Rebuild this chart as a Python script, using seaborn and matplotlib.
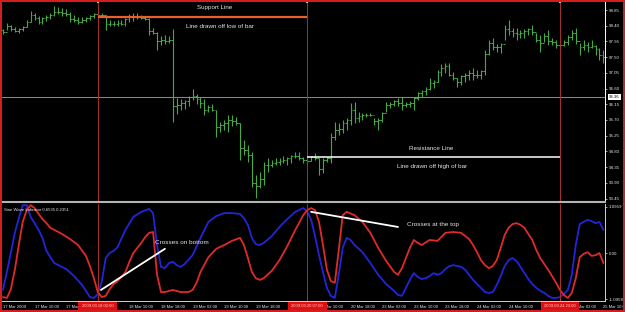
import matplotlib
matplotlib.use("Agg")
import matplotlib.pyplot as plt
from matplotlib.patches import Rectangle
from matplotlib import transforms
import pandas as pd
import seaborn as sns

# ---------------- data (hourly bars, 17-25 Mar 2009) ----------------
bar_high = [98.31, 98.48, 98.42, 98.36, 98.34, 98.39, 98.56, 98.82, 98.76, 98.68,
            98.65, 98.71, 98.76, 98.97, 98.94, 98.91, 98.88, 98.79, 98.71, 98.65,
            98.65, 98.65, 98.71, 98.76, 98.82, 98.76, 98.71, 98.56, 98.54, 98.56,
            98.56, 98.62, 98.74, 98.76, 98.76, 98.71, 98.65, 98.62, 98.34, 98.22,
            98.11, 98.14, 98.11, 98.31, 96.33, 96.30, 96.27, 96.39, 96.59, 96.44,
            96.36, 96.30, 96.13, 96.16, 95.99, 95.64, 95.70, 95.84, 95.84, 95.79,
            95.61, 95.13, 94.98, 94.78, 94.12, 94.21, 94.50, 94.61, 94.55, 94.61,
            94.61, 94.67, 94.64, 94.70, 94.78, 94.78, 94.64, 94.65, 94.67, 94.75,
            94.61, 94.61, 94.64, 95.33, 95.64, 95.61, 95.70, 95.76, 96.19, 96.21,
            95.93, 95.90, 95.90, 95.90, 95.76, 95.76, 95.93, 96.21, 96.21, 96.27,
            96.33, 96.36, 96.21, 96.24, 96.36, 96.50, 96.56, 96.64, 96.91, 96.85,
            97.13, 97.30, 97.33, 97.33, 97.07, 96.91, 96.99, 97.05, 97.13, 97.19,
            97.13, 97.13, 97.70, 97.99, 98.05, 97.88, 97.91, 98.42, 98.56, 98.34,
            98.34, 98.28, 98.31, 98.34, 98.42, 98.19, 98.14, 98.19, 98.28, 98.05,
            97.99, 97.93, 97.99, 98.14, 98.28, 98.34, 97.91, 97.99, 97.93, 97.99,
            97.85, 97.76, 97.70]
bar_low = [98.16, 98.28, 98.25, 98.22, 98.19, 98.25, 98.36, 98.51, 98.56, 98.45,
           98.45, 98.54, 98.59, 98.68, 98.74, 98.68, 98.68, 98.51, 98.51, 98.45,
           98.48, 98.51, 98.56, 98.62, 98.66, 98.68, 98.28, 98.39, 98.39, 98.39,
           98.42, 98.39, 98.51, 98.54, 98.59, 98.59, 98.56, 98.14, 98.16, 97.70,
           97.85, 97.88, 97.91, 95.64, 95.87, 95.99, 96.01, 96.10, 96.27, 96.16,
           96.04, 95.84, 95.93, 95.96, 95.21, 95.36, 95.41, 95.36, 95.53, 95.56,
           94.55, 94.70, 94.50, 93.78, 93.46, 93.75, 93.84, 94.21, 94.35, 94.41,
           94.41, 94.47, 94.41, 94.47, 94.61, 94.55, 94.47, 94.41, 94.52, 94.55,
           94.12, 94.18, 94.50, 94.47, 95.13, 95.27, 95.33, 95.41, 95.56, 95.61,
           95.64, 95.70, 95.79, 95.81, 95.56, 95.41, 95.64, 95.93, 96.04, 96.10,
           96.10, 95.99, 96.07, 96.07, 95.99, 96.27, 96.36, 96.42, 96.56, 96.62,
           96.79, 96.96, 97.05, 96.96, 96.85, 96.64, 96.70, 96.79, 96.85, 96.85,
           96.91, 96.87, 96.99, 97.56, 97.70, 97.65, 97.62, 97.99, 98.14, 98.08,
           97.99, 98.05, 98.05, 98.14, 98.14, 97.93, 97.65, 97.93, 97.85, 97.85,
           97.76, 97.76, 97.82, 97.85, 97.99, 97.88, 97.56, 97.70, 97.65, 97.76,
           97.56, 97.42, 97.33]
bar_close = [98.22, 98.40, 98.30, 98.26, 98.30, 98.36, 98.50, 98.70, 98.62, 98.50,
             98.62, 98.66, 98.72, 98.80, 98.80, 98.76, 98.74, 98.58, 98.56, 98.52,
             98.56, 98.62, 98.68, 98.74, 98.72, 98.70, 98.46, 98.46, 98.44, 98.48,
             98.46, 98.58, 98.68, 98.66, 98.64, 98.62, 98.60, 98.24, 98.20, 97.96,
             98.00, 97.96, 98.00, 96.10, 96.12, 96.20, 96.24, 96.36, 96.40, 96.30,
             96.20, 96.00, 96.08, 96.00, 95.50, 95.56, 95.60, 95.70, 95.66, 95.62,
             94.90, 94.84, 94.70, 93.90, 93.80, 94.00, 94.40, 94.40, 94.48, 94.50,
             94.52, 94.56, 94.60, 94.68, 94.66, 94.60, 94.56, 94.52, 94.64, 94.60,
             94.30, 94.56, 94.60, 95.20, 95.40, 95.44, 95.60, 95.70, 96.00, 95.76,
             95.80, 95.84, 95.84, 95.84, 95.66, 95.70, 95.90, 96.14, 96.16, 96.24,
             96.20, 96.14, 96.16, 96.20, 96.32, 96.46, 96.52, 96.60, 96.76, 96.80,
             97.08, 97.20, 97.24, 97.00, 96.90, 96.80, 96.96, 97.00, 97.06, 97.00,
             97.00, 97.10, 97.60, 97.90, 97.80, 97.78, 97.88, 98.30, 98.24, 98.20,
             98.16, 98.20, 98.24, 98.30, 98.22, 98.00, 97.90, 98.10, 97.96, 97.92,
             97.86, 97.86, 97.94, 98.08, 98.20, 97.96, 97.80, 97.86, 97.80, 97.82,
             97.72, 97.56, 97.50]
first_open = 98.28

# Sine Wave indicator (blue = sine, red = lead sine), read at bar indexes
sine_idx = [0, 1, 2, 3, 4, 5, 6, 7, 8, 9, 10, 11, 12, 13, 16, 18, 20, 21, 22, 23,
            24, 25, 26, 27, 28, 29, 31, 33, 35, 37, 38, 39, 40, 41, 42, 43, 44, 45, 46, 48,
            50, 52, 54, 56, 58, 60, 61, 62, 63, 64, 65, 66, 68, 70, 72, 74, 76, 77, 78, 79,
            80, 81, 82, 83, 84, 85, 86, 87, 88, 89, 91, 93, 95, 97, 99, 100, 101, 102, 103, 104,
            105, 106, 107, 108, 109, 110, 111, 112, 113, 114, 115, 116, 117, 118, 119, 120,
            121, 122, 123, 124, 125, 126, 127, 128, 129, 130, 131, 132, 133, 134, 135, 136,
            137, 138, 139, 140, 141, 142, 143, 144, 145, 146, 147, 148, 149, 150, 151, 152]
sine_val = [-0.88, -0.45, 0.02, 0.48, 0.83, 1.14, 1.14, 0.86, 0.71, 0.55, 0.36, 0.05, -0.10, -0.24, -0.38, -0.55, -0.76, -0.90, -1.05, -1.07,
            -0.98, -0.69, -0.12, 0.00, 0.05, 0.14, 0.55, 0.86, 0.98, 1.05, 0.95, 0.19, -0.33, -0.36, -0.24, -0.21, -0.29, -0.33, -0.26, -0.05,
            0.36, 0.74, 0.88, 0.95, 0.95, 0.93, 0.83, 0.67, 0.36, 0.21, 0.19, 0.24, 0.40, 0.62, 0.81, 0.98, 1.07, 1.00, 0.79, 0.40,
            -0.05, -0.45, -0.83, -1.02, -1.07, -0.52, 0.12, 0.36, 0.31, 0.19, 0.02, -0.24, -0.52, -0.74, -0.90, -1.00, -1.02, -0.83, -0.64, -0.48,
            -0.57, -0.62, -0.60, -0.55, -0.48, -0.52, -0.48, -0.38, -0.31, -0.29, -0.31, -0.33, -0.40, -0.52, -0.64, -0.74,
            -0.83, -0.93, -0.95, -0.93, -0.76, -0.55, -0.31, -0.17, -0.12, -0.19, -0.33, -0.48, -0.62, -0.74, -0.83, -0.90,
            -0.95, -1.02, -1.07, -1.07, -1.05, -0.98, -0.88, -0.52, 0.19, 0.69, 0.74, 0.79, 0.76, 0.71, 0.74, 0.55]
lead_idx = [0, 1, 2, 3, 4, 5, 6, 7, 8, 9, 10, 11, 12, 14, 15, 17, 19, 21, 22, 23,
            24, 25, 26, 27, 28, 29, 30, 31, 32, 33, 35, 36, 37, 38, 39, 40, 41, 43, 45, 47,
            48, 49, 50, 52, 54, 56, 58, 60, 61, 62, 63, 64, 65, 66, 68, 70, 72, 74, 76, 77,
            78, 79, 80, 81, 82, 83, 84, 85, 86, 87, 89, 91, 93, 95, 97, 99, 100, 101, 102, 103,
            104, 105, 106, 108, 110, 112, 114, 116, 118, 119, 120, 121, 122, 123, 124, 125,
            126, 127, 128, 129, 130, 131, 132, 133, 134, 135, 136, 137, 138, 139, 140, 141,
            142, 143, 144, 145, 146, 147, 148, 149, 150, 151, 152]
lead_val = [-1.05, -1.07, -0.86, -0.40, 0.19, 0.74, 1.02, 1.14, 1.07, 0.93, 0.81, 0.71, 0.60, 0.50, 0.45, 0.33, 0.19, -0.07, -0.31, -0.60,
            -0.93, -1.05, -1.02, -0.86, -0.74, -0.67, -0.57, -0.45, -0.21, 0.00, 0.24, 0.38, 0.48, 0.50, -0.52, -0.93, -0.93, -0.88, -0.93, -0.93,
            -0.88, -0.71, -0.45, -0.10, 0.10, 0.19, 0.29, 0.36, 0.19, -0.12, -0.45, -0.60, -0.64, -0.60, -0.43, -0.17, 0.17, 0.55, 0.90, 1.02,
            1.07, 1.02, 0.74, 0.19, -0.40, -0.67, -0.71, 0.07, 0.90, 0.98, 0.90, 0.74, 0.48, 0.12, -0.19, -0.45, -0.52, -0.36, -0.12, 0.12,
            0.31, 0.24, 0.19, 0.31, 0.29, 0.48, 0.50, 0.48, 0.33, 0.19, 0.02, -0.17, -0.29, -0.36, -0.31, -0.17,
            0.12, 0.43, 0.60, 0.69, 0.71, 0.67, 0.60, 0.45, 0.31, 0.07, -0.12, -0.26, -0.40, -0.55, -0.71, -0.88,
            -1.00, -1.07, -0.95, -0.60, -0.10, -0.02, 0.02, -0.07, -0.05, 0.00, -0.24]

price_ticks = [98.85, 98.40, 97.95, 97.50, 97.05, 96.60, 96.15, 95.70, 95.25, 94.80, 94.35, 93.90, 93.45]
ind_ticks = [1.0959, 0.0, -1.0958]
ind_tick_labels = ["1.0959", "0.00", "-1.0958"]
# time labels every 8 bars; those fully hidden by the red time boxes are omitted
time_tick_pos = [0, 8, 16, 32, 40, 48, 56, 64, 80, 88, 96, 104, 112, 120, 128, 144, 152]
time_tick_labels = ["17 Mar 2009", "17 Mar 10:00", "17 Mar 18:00", "18 Mar 10:00",
                    "18 Mar 18:00", "19 Mar 02:00", "19 Mar 10:00", "19 Mar 18:00",
                    "20 Mar 10:00", "20 Mar 18:00", "23 Mar 02:00", "23 Mar 10:00", "23 Mar 18:00",
                    "24 Mar 02:00", "24 Mar 10:00", "25 Mar 02:00", "25 Mar 10:00"]
vline_bars = [24, 77, 141]
vline_labels = ["2009.03.18 02:00", "2009.03.20 07:00", "2009.03.24 23:00"]
support_level = 98.66
resistance_level = 94.65
hline_level = 96.36
hline_label = "96.36"

# ---------------- style ----------------
sns.set_theme(style="dark", rc={"axes.facecolor": "black", "figure.facecolor": "black",
                                "savefig.facecolor": "black"})
plt.rcParams['font.family'] = ['Liberation Sans', 'DejaVu Sans']

W, H = 625, 312
fig = plt.figure(figsize=(W / 100, H / 100), dpi=100)
ax_p = fig.add_axes([2 / W, 110 / H, 603 / W, 200 / H])
ax_i = fig.add_axes([2 / W, 11 / H, 603 / W, 97 / H])

GREEN = "#46A846"
BLUE = "#2424D8"
RED = "#E02A2A"
VRED = "#A83030"
TXT = "#E6E6E6"

# ---------------- price panel ----------------
idx = list(range(len(bar_high)))
opens = [first_open] + bar_close[:-1]
ax_p.vlines(idx, bar_low, bar_high, color=GREEN, lw=0.8)
ax_p.hlines(opens, [i - 0.45 for i in idx], idx, color=GREEN, lw=0.7)
ax_p.hlines(bar_close, idx, [i + 0.45 for i in idx], color=GREEN, lw=0.7)

ax_p.set_xlim(-0.25, 152.4)
ax_p.set_ylim(93.35, 99.08)
ax_p.axhline(hline_level, color="#8C8C8C", lw=0.7)
for b in vline_bars:
    ax_p.axvline(b, color=VRED, lw=0.7)
ax_p.plot(vline_bars, [99.07] * 3, 's', ms=1.6, mfc="white", mec=VRED, mew=0.3, clip_on=False)
ax_p.plot(vline_bars, [93.36] * 3, 's', ms=1.6, mfc="white", mec=VRED, mew=0.3, clip_on=False)

ax_p.hlines(support_level, vline_bars[0], vline_bars[1], color="#E8602C", lw=1.6)
ax_p.hlines(resistance_level, vline_bars[1], vline_bars[2], color="white", lw=1.1)
ax_p.text(53.7, 98.91, "Support Line", color=TXT, fontsize=4.5, ha="center", va="center")
ax_p.text(55.0, 98.38, "Line drawn off low of bar", color=TXT, fontsize=4.5, ha="center", va="center")
ax_p.text(108.4, 94.87, "Resistance Line", color=TXT, fontsize=4.5, ha="center", va="center")
ax_p.text(108.6, 94.38, "Line drawn off high of bar", color=TXT, fontsize=4.5, ha="center", va="center")

ax_p.yaxis.tick_right()
ax_p.set_yticks(price_ticks)
ax_p.set_yticklabels([f"{t:.2f}" for t in price_ticks])
ax_p.set_xticks([])
ax_p.tick_params(axis="y", colors=TXT, labelsize=3.2, length=1.5, width=0.5, pad=1)
for s in ax_p.spines.values():
    s.set_visible(False)
ax_p.spines["right"].set_visible(True)
ax_p.spines["right"].set_color("white")
ax_p.spines["right"].set_linewidth(0.7)
ax_p.spines["bottom"].set_visible(True)
ax_p.spines["bottom"].set_color("#B4B4B4")
ax_p.spines["bottom"].set_linewidth(1.5)

# ---------------- indicator panel ----------------
sns.lineplot(x=sine_idx, y=sine_val, ax=ax_i, color=BLUE, linewidth=1.3, estimator=None)
sns.lineplot(x=lead_idx, y=lead_val, ax=ax_i, color=RED, linewidth=1.3, estimator=None)
ax_i.set_xlim(-0.25, 152.4)
ax_i.set_ylim(-1.143, 1.167)
ax_i.set_xlabel("")
ax_i.set_ylabel("")
for b in vline_bars:
    ax_i.axvline(b, color=VRED, lw=0.7)

ax_i.plot([24.8, 41.0], [-0.88, 0.10], color="white", lw=1.3)
ax_i.plot([78.0, 100.0], [0.98, 0.62], color="white", lw=1.3)
ax_i.text(38.6, 0.26, "Crosses on bottom", color=TXT, fontsize=4.6, ha="left", va="center")
ax_i.text(102.3, 0.67, "Crosses at the top", color=TXT, fontsize=4.6, ha="left", va="center")
ax_i.text(0.004, 0.94, "Sine Wave Indicator 0.6535 0.2351", color=TXT, fontsize=3.1,
          ha="left", va="center", transform=ax_i.transAxes)

ax_i.yaxis.tick_right()
ax_i.set_yticks(ind_ticks)
ax_i.set_yticklabels(ind_tick_labels)
ax_i.tick_params(axis="y", colors=TXT, labelsize=3.2, length=1.5, width=0.5, pad=1)
ax_i.set_xticks(time_tick_pos)
ax_i.set_xticklabels(time_tick_labels)
ax_i.tick_params(axis="x", colors=TXT, labelsize=3.0, length=1.5, width=0.5, pad=1.6)
for lbl in ax_i.get_xticklabels():
    lbl.set_ha("left")
for s in ax_i.spines.values():
    s.set_visible(False)
for name in ("right", "bottom"):
    ax_i.spines[name].set_visible(True)
    ax_i.spines[name].set_color("#D0D0D0")
    ax_i.spines[name].set_linewidth(0.7)

# red time boxes for vertical lines
blend = transforms.blended_transform_factory(ax_i.transData, fig.transFigure)
for b, lab in zip(vline_bars, vline_labels):
    fig.add_artist(Rectangle((b - 4.9, 1.8 / H), 9.8, 8.6 / H, transform=blend,
                             facecolor="#E01010", edgecolor="none", zorder=4))
    fig.text(b, 5.6 / H, lab, transform=blend, color="#FFD0D0", fontsize=3.0,
             ha="center", va="center", zorder=5)

# current line label on price scale
blend_p = transforms.blended_transform_factory(fig.transFigure, ax_p.transData)
fig.text(614.5 / W, hline_level, hline_label, transform=blend_p, color="black", fontsize=3.1,
         ha="center", va="center", zorder=5,
         bbox=dict(boxstyle="square,pad=0.25", facecolor="white", edgecolor="none"))

# red window frame
fig.add_artist(Rectangle((0, 0), 1, 1, transform=fig.transFigure, fill=False,
                         edgecolor="#D21E1E", lw=2.9, zorder=6, clip_on=False))

fig.savefig("out.png", dpi=100, facecolor="black")
